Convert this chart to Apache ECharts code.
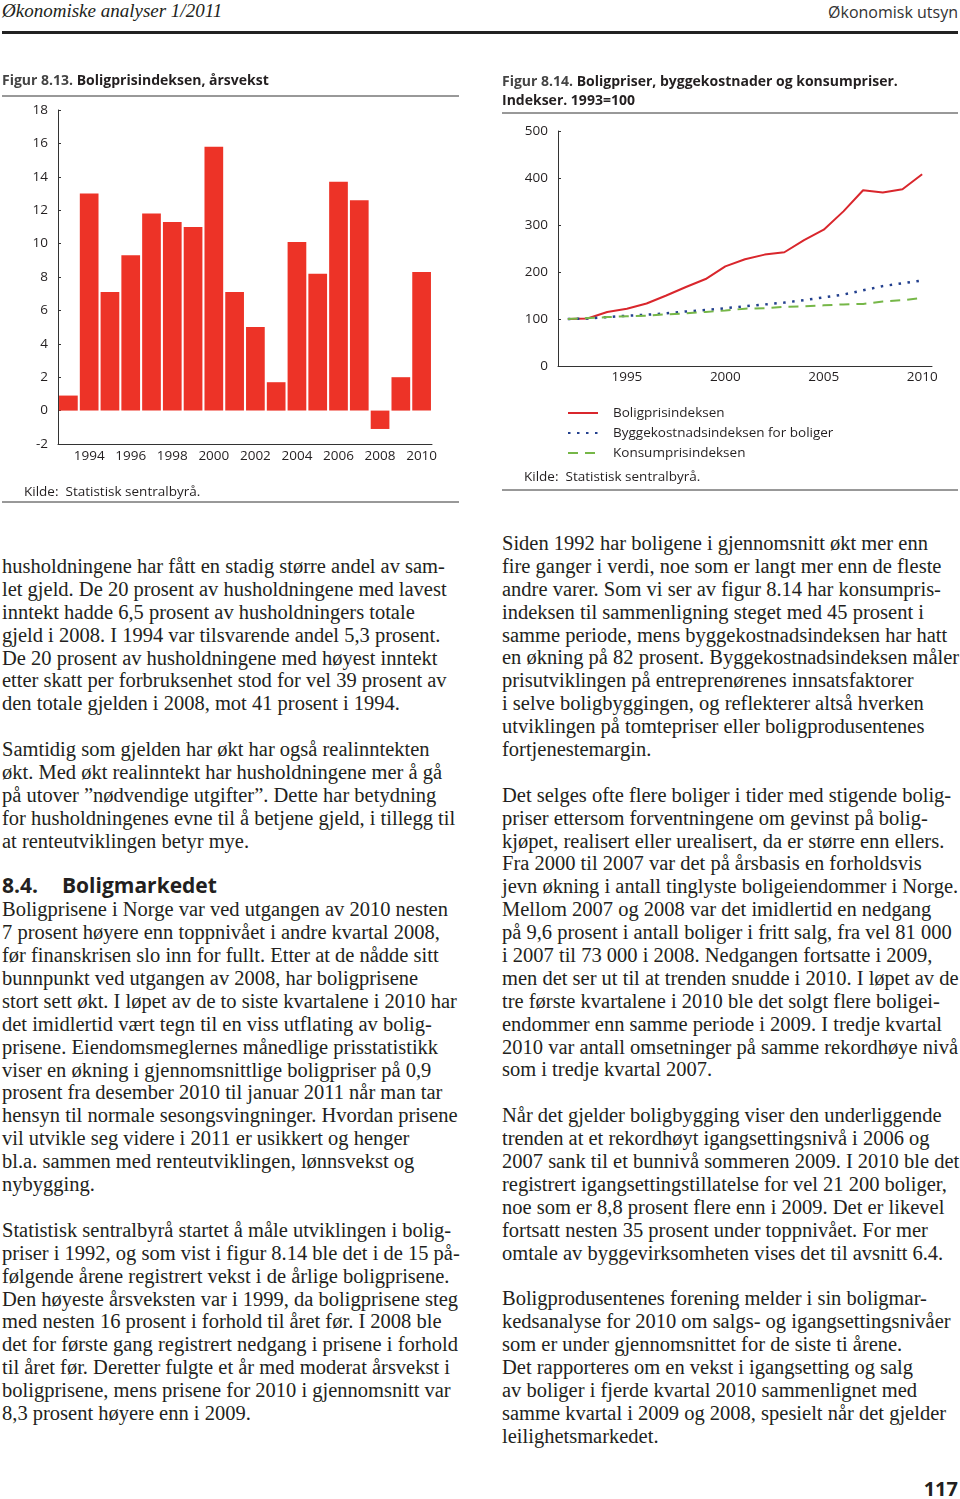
<!DOCTYPE html>
<html>
<head>
<meta charset="utf-8">
<script src="https://cdn.jsdelivr.net/npm/echarts@6/dist/echarts.min.js"></script>
<style>
  html, body { margin: 0; padding: 0; background: #fff; }
  body { width: 960px; height: 1499px; position: relative; overflow: hidden; color: #231f20; }
  .hdl { position: absolute; left: 2px; top: 0px; font: italic 19px "Liberation Serif", serif; }
  .hdr { position: absolute; right: 2px; top: 1px; font: 16px "Open Sans", sans-serif; color: #333; }
  .rule { position: absolute; left: 2px; top: 31px; width: 956px; height: 3px; background: #222; }
  #figs { position: absolute; left: 0; top: 0; width: 960px; height: 510px; }
  .col { position: absolute; font: 20.5px "Liberation Serif", serif; line-height: 22.9px; white-space: pre; }
  .col div { height: 22.9px; }
  .col .h { font: bold 21px "Open Sans", sans-serif; line-height: 22.9px; position: relative; top: -1px; }
  .pg { position: absolute; right: 2px; top: 1475px; font: bold 20px "Open Sans", sans-serif; }
</style>
</head>
<body>
<div class="hdl">Økonomiske analyser 1/2011</div>
<div class="hdr">Økonomisk utsyn</div>
<div class="rule"></div>
<div id="figs"></div>

<div class="col" id="left" style="left:2px; top:555px;"></div>
<div class="col" id="right" style="left:502px; top:532px;"></div>
<div class="pg">117</div>

<script>
// Figur 8.13 - årsvekst i boligprisindeksen (prosent)
var vekstAar = ['1993','1994','1995','1996','1997','1998','1999','2000','2001',
                '2002','2003','2004','2005','2006','2007','2008','2009','2010'];
var vekst = [0.9, 13.0, 7.1, 9.3, 11.8, 11.3, 11.0, 15.8, 7.1,
             5.0, 1.7, 10.1, 8.2, 13.7, 12.6, -1.1, 2.0, 8.3];

// Figur 8.14 - indekser
var indeksAar = ['1992','1993','1994','1995','1996','1997','1998','1999','2000','2001',
                 '2002','2003','2004','2005','2006','2007','2008','2009','2010'];
var boligpris = [100, 101, 115, 122, 133, 150, 168, 185, 212, 227,
                 237, 242, 268, 290, 329, 374, 369, 376, 408];
var byggekost = [100, 101, 104, 107, 109, 112, 116, 119, 123, 127,
                 131, 135, 140, 146, 152, 161, 170, 176, 182];
var kpi = [100, 102, 104, 106, 107, 110, 112, 115, 118, 122,
           123, 126, 127, 129, 131, 132, 137, 140, 145];

var serieNavn = ['Boligprisindeksen', 'Byggekostnadsindeksen for boliger', 'Konsumprisindeksen'];

// brødtekst
var venstre = [
  'husholdningene har fått en stadig større andel av sam-',
  'let gjeld. De 20 prosent av husholdningene med lavest',
  'inntekt hadde 6,5 prosent av husholdningers totale',
  'gjeld i 2008. I 1994 var tilsvarende andel 5,3 prosent.',
  'De 20 prosent av husholdningene med høyest inntekt',
  'etter skatt per forbruksenhet stod for vel 39 prosent av',
  'den totale gjelden i 2008, mot 41 prosent i 1994.',
  '',
  'Samtidig som gjelden har økt har også realinntekten',
  'økt. Med økt realinntekt har husholdningene mer å gå',
  'på utover \u201dnødvendige utgifter\u201d. Dette har betydning',
  'for husholdningenes evne til å betjene gjeld, i tillegg til',
  'at renteutviklingen betyr mye.',
  '',
  '#8.4.',
  'Boligprisene i Norge var ved utgangen av 2010 nesten',
  '7 prosent høyere enn toppnivået i andre kvartal 2008,',
  'før finanskrisen slo inn for fullt. Etter at de nådde sitt',
  'bunnpunkt ved utgangen av 2008, har boligprisene',
  'stort sett økt. I løpet av de to siste kvartalene i 2010 har',
  'det imidlertid vært tegn til en viss utflating av bolig-',
  'prisene. Eiendomsmeglernes månedlige prisstatistikk',
  'viser en økning i gjennomsnittlige boligpriser på 0,9',
  'prosent fra desember 2010 til januar 2011 når man tar',
  'hensyn til normale sesongsvingninger. Hvordan prisene',
  'vil utvikle seg videre i 2011 er usikkert og henger',
  'bl.a. sammen med renteutviklingen, lønnsvekst og',
  'nybygging.',
  '',
  'Statistisk sentralbyrå startet å måle utviklingen i bolig-',
  'priser i 1992, og som vist i figur 8.14 ble det i de 15 på-',
  'følgende årene registrert vekst i de årlige boligprisene.',
  'Den høyeste årsveksten var i 1999, da boligprisene steg',
  'med nesten 16 prosent i forhold til året før. I 2008 ble',
  'det for første gang registrert nedgang i prisene i forhold',
  'til året før. Deretter fulgte et år med moderat årsvekst i',
  'boligprisene, mens prisene for 2010 i gjennomsnitt var',
  '8,3 prosent høyere enn i 2009.'
];
var hoyre = [
  'Siden 1992 har boligene i gjennomsnitt økt mer enn',
  'fire ganger i verdi, noe som er langt mer enn de fleste',
  'andre varer. Som vi ser av figur 8.14 har konsumpris-',
  'indeksen til sammenligning steget med 45 prosent i',
  'samme periode, mens byggekostnadsindeksen har hatt',
  'en økning på 82 prosent. Byggekostnadsindeksen måler',
  'prisutviklingen på entreprenørenes innsatsfaktorer',
  'i selve boligbyggingen, og reflekterer altså hverken',
  'utviklingen på tomtepriser eller boligprodusentenes',
  'fortjenestemargin.',
  '',
  'Det selges ofte flere boliger i tider med stigende bolig-',
  'priser ettersom forventningene om gevinst på bolig-',
  'kjøpet, realisert eller urealisert, da er større enn ellers.',
  'Fra 2000 til 2007 var det på årsbasis en forholdsvis',
  'jevn økning i antall tinglyste boligeiendommer i Norge.',
  'Mellom 2007 og 2008 var det imidlertid en nedgang',
  'på 9,6 prosent i antall boliger i fritt salg, fra vel 81 000',
  'i 2007 til 73 000 i 2008. Nedgangen fortsatte i 2009,',
  'men det ser ut til at trenden snudde i 2010. I løpet av de',
  'tre første kvartalene i 2010 ble det solgt flere boligei-',
  'endommer enn samme periode i 2009. I tredje kvartal',
  '2010 var antall omsetninger på samme rekordhøye nivå',
  'som i tredje kvartal 2007.',
  '',
  'Når det gjelder boligbygging viser den underliggende',
  'trenden at et rekordhøyt igangsettingsnivå i 2006 og',
  '2007 sank til et bunnivå sommeren 2009. I 2010 ble det',
  'registrert igangsettingstillatelse for vel 21 200 boliger,',
  'noe som er 8,8 prosent flere enn i 2009. Det er likevel',
  'fortsatt nesten 35 prosent under toppnivået. For mer',
  'omtale av byggevirksomheten vises det til avsnitt 6.4.',
  '',
  'Boligprodusentenes forening melder i sin boligmar-',
  'kedsanalyse for 2010 om salgs- og igangsettingsnivåer',
  'som er under gjennomsnittet for de siste ti årene.',
  'Det rapporteres om en vekst i igangsetting og salg',
  'av boliger i fjerde kvartal 2010 sammenlignet med',
  'samme kvartal i 2009 og 2008, spesielt når det gjelder',
  'leilighetsmarkedet.'
];

function fyll(id, linjer) {
  var el = document.getElementById(id);
  linjer.forEach(function (t) {
    var d = document.createElement('div');
    if (t.charAt(0) === '#') {
      d.className = 'h';
      d.innerHTML = '8.4.<span style="position:absolute;left:60px">Boligmarkedet</span>';
    } else {
      d.textContent = t;
    }
    el.appendChild(d);
  });
}
fyll('left', venstre);
fyll('right', hoyre);

var font = '"Open Sans", sans-serif';
var ink = '#231f20';
var axisCol = '#333';

var chart = echarts.init(document.getElementById('figs'));

var option = {
  animation: false,
  textStyle: { fontFamily: font, color: ink },
  title: [
    {
      left: 2, top: 74, padding: 0,
      text: '{a|Figur 8.13. }{b|Boligprisindeksen, årsvekst}',
      textStyle: {
        rich: {
          a: { fontFamily: font, fontSize: 14, color: '#444' },
          b: { fontFamily: font, fontSize: 14, fontWeight: 'bold', color: ink }
        }
      }
    },
    {
      left: 502, top: 73, padding: 0,
      text: '{a|Figur 8.14. }{b|Boligpriser, byggekostnader og konsumpriser.}\n{b|Indekser. 1993=100}',
      textStyle: {
        rich: {
          a: { fontFamily: font, fontSize: 14, color: '#444', lineHeight: 19 },
          b: { fontFamily: font, fontSize: 14, fontWeight: 'bold', color: ink, lineHeight: 19 }
        }
      }
    }
  ],
  legend: {
    data: serieNavn,
    orient: 'vertical',
    left: 567, top: 406, padding: 0,
    itemWidth: 30, itemHeight: 12, itemGap: 6,
    itemStyle: { opacity: 0 },
    textStyle: { fontFamily: font, fontSize: 13.5, color: ink, padding: [0, 0, 0, 10] }
  },
  grid: [
    { left: 58, top: 110, width: 374, height: 334 },
    { left: 558, top: 131, width: 374, height: 235 }
  ],
  xAxis: [
    {
      type: 'category', gridIndex: 0, data: vekstAar,
      axisLine: { onZero: false, lineStyle: { color: axisCol } },
      axisTick: { interval: 0, length: 5, lineStyle: { color: axisCol } },
      axisLabel: {
        interval: function (i) { return i % 2 === 1; },
        margin: 5, fontSize: 13.5, color: ink, fontFamily: font
      }
    },
    {
      type: 'category', gridIndex: 1, data: indeksAar,
      axisLine: { lineStyle: { color: axisCol } },
      axisTick: { interval: 0, inside: true, length: 6, lineStyle: { color: axisCol } },
      axisLabel: {
        interval: function (i) { return (i - 3) % 5 === 0; },
        margin: 4, fontSize: 13.5, color: ink, fontFamily: font
      }
    }
  ],
  yAxis: [
    {
      type: 'value', gridIndex: 0, min: -2, max: 18, interval: 2,
      splitLine: { show: false },
      axisLine: { show: true, lineStyle: { color: axisCol } },
      axisTick: { show: true, inside: true, length: 3, lineStyle: { color: axisCol } },
      axisLabel: { margin: 10, fontSize: 13.5, color: ink, fontFamily: font }
    },
    {
      type: 'value', gridIndex: 1, min: 0, max: 500, interval: 100,
      splitLine: { show: false },
      axisLine: { show: true, lineStyle: { color: axisCol } },
      axisTick: { show: true, inside: true, length: 3, lineStyle: { color: axisCol } },
      axisLabel: { margin: 10, fontSize: 13.5, color: ink, fontFamily: font }
    }
  ],
  series: [
    {
      type: 'bar', xAxisIndex: 0, yAxisIndex: 0,
      data: vekst, barCategoryGap: '10%',
      itemStyle: { color: '#ed3327' }
    },
    {
      name: serieNavn[0], type: 'line', xAxisIndex: 1, yAxisIndex: 1,
      data: boligpris, symbol: 'none',
      lineStyle: { color: '#d9262c', width: 2 }, itemStyle: { color: '#d9262c' }
    },
    {
      name: serieNavn[1], type: 'line', xAxisIndex: 1, yAxisIndex: 1,
      data: byggekost, symbol: 'none',
      lineStyle: { color: '#23408e', width: 2.5, type: [2.5, 6.5] }, itemStyle: { color: '#23408e' }
    },
    {
      name: serieNavn[2], type: 'line', xAxisIndex: 1, yAxisIndex: 1,
      data: kpi, symbol: 'none',
      lineStyle: { color: '#76b748', width: 2, type: [10, 7] }, itemStyle: { color: '#76b748' }
    }
  ],
  graphic: [
    { type: 'line', shape: { x1: 2, y1: 96, x2: 459, y2: 96 }, style: { stroke: '#333', lineWidth: 1 } },
    { type: 'line', shape: { x1: 2, y1: 502, x2: 459, y2: 502 }, style: { stroke: '#333', lineWidth: 1 } },
    { type: 'line', shape: { x1: 502, y1: 113, x2: 958, y2: 113 }, style: { stroke: '#333', lineWidth: 1 } },
    { type: 'line', shape: { x1: 502, y1: 490, x2: 958, y2: 490 }, style: { stroke: '#333', lineWidth: 1 } },
    { type: 'text', left: 24, top: 485, style: { text: 'Kilde:  Statistisk sentralbyrå.', font: '13.5px "Open Sans", sans-serif', fill: ink } },
    { type: 'text', left: 524, top: 470, style: { text: 'Kilde:  Statistisk sentralbyrå.', font: '13.5px "Open Sans", sans-serif', fill: ink } }
  ]
};

chart.setOption(option);
</script>
</body>
</html>
